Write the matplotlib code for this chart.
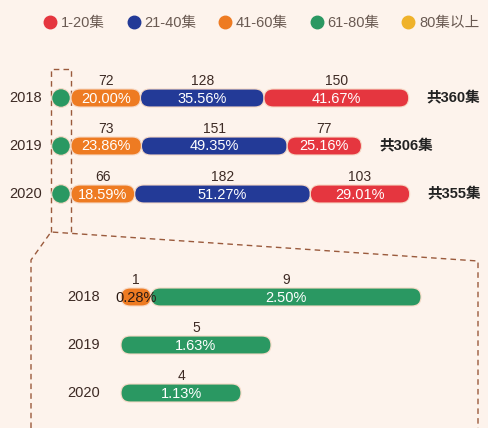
import matplotlib.pyplot as plt
from matplotlib.patches import FancyBboxPatch, Circle
from matplotlib.lines import Line2D

plt.rcParams['font.family'] = ['Liberation Sans', 'Noto Sans CJK SC', 'DejaVu Sans']

# data
years = ["2018", "2019", "2020"]
cat_names = ["1-20集", "21-40集", "41-60集", "61-80集", "80集以上"]
cat_colors = ["#E5363F", "#233A97", "#EE7B22", "#2A9862", "#EFB22A"]

ep_41_60 = [72, 73, 66]
ep_21_40 = [128, 151, 182]
ep_1_20 = [150, 77, 103]
ep_61_80 = [9, 5, 4]
ep_80_up = [1, 0, 0]

totals = [a + b + c + d + e for a, b, c, d, e in zip(ep_41_60, ep_21_40, ep_1_20, ep_61_80, ep_80_up)]

bg = "#FDF3EC"
txt = "#3d2a24"
dash_col = "#9a5a3c"

fig = plt.figure(figsize=(4.88, 4.28), dpi=100, facecolor=bg)
ax = fig.add_axes([0, 0, 1, 1])
ax.set_xlim(0, 488)
ax.set_ylim(428, 0)
ax.axis("off")
ax.set_facecolor(bg)


def pill(x, y, w, color, h=18):
    p = FancyBboxPatch((x, y - h / 2), w, h, boxstyle="round,pad=0,rounding_size=%f" % min(h / 2, w / 2),
                       fc=color, ec="#f6d9c6", lw=0.8, zorder=3)
    ax.add_patch(p)


# top chart
k1 = 0.965
x0 = 71
row_y = [98, 146, 194]
for i, yr in enumerate(years):
    y = row_y[i]
    ax.text(42, y, yr, ha="right", va="center", fontsize=10.5, color=txt)
    ax.add_patch(Circle((61, y), 9.3, fc=cat_colors[3], ec="#f6d9c6", lw=0.8, zorder=3))
    x = x0
    for vals, col in [(ep_41_60, cat_colors[2]), (ep_21_40, cat_colors[1]), (ep_1_20, cat_colors[0])]:
        w = vals[i] * k1
        pill(x, y, w, col)
        ax.text(x + w / 2, y + 0.5, "%.2f%%" % (vals[i] / totals[i] * 100), ha="center", va="center",
                fontsize=10.5, color="white", zorder=4)
        ax.text(x + w / 2, y - 17, str(vals[i]), ha="center", va="center", fontsize=10, color=txt)
        x += w
    ax.text(x + 18, y, "共%d集" % totals[i], ha="left", va="center", fontsize=10.5,
            fontweight="bold", color="#222222")

# bottom (zoomed) chart
k2 = 30
x1 = 121
row_y2 = [297, 345, 393]
for i, yr in enumerate(years):
    y = row_y2[i]
    ax.text(100, y, yr, ha="right", va="center", fontsize=10.5, color=txt)
    x = x1
    for vals, col, tc in [(ep_80_up, cat_colors[2], "#2a1a14"), (ep_61_80, cat_colors[3], "white")]:
        if vals[i] == 0:
            continue
        w = vals[i] * k2
        pill(x, y, w, col)
        ax.text(x + w / 2, y + 0.5, "%.2f%%" % (vals[i] / totals[i] * 100), ha="center", va="center",
                fontsize=10.5, color=tc, zorder=4)
        ax.text(x + w / 2, y - 17, str(vals[i]), ha="center", va="center", fontsize=10, color=txt)
        x += w

# dashed zoom outline
dkw = dict(color=dash_col, lw=1.0, ls=(0, (4, 3)), zorder=2)
ax.plot([51, 51, 71, 71], [232, 69, 69, 232], **dkw)
ax.plot([31, 31, 51, 478, 478], [428, 260, 232, 261, 428], **dkw)

# legend
handles = [Line2D([], [], marker="o", ls="", ms=9, mfc=c, mec=c) for c in cat_colors]
fig.legend(handles, cat_names, loc="center", bbox_to_anchor=(0.535, 0.946), ncol=5, frameon=False,
           fontsize=10.5, handletextpad=0.25, columnspacing=1.45, handlelength=1.0, labelcolor="#6a5a52")

fig.savefig("out.png", dpi=100, facecolor=bg)
